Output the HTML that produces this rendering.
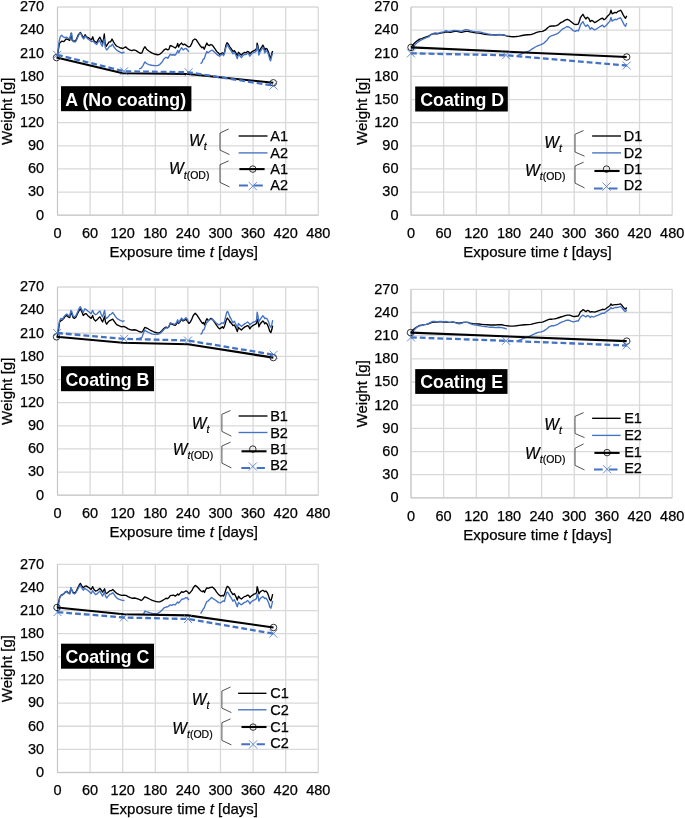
<!DOCTYPE html>
<html><head><meta charset="utf-8"><title>Weight vs exposure time</title>
<style>
html,body{margin:0;padding:0;background:#fff;}
svg{display:block;will-change:transform;transform:translateZ(0);}
.t{font-family:"Liberation Sans",Arial,sans-serif;font-size:14.5px;fill:#000;stroke:#000;stroke-width:0.25px;}
.a{font-family:"Liberation Sans",Arial,sans-serif;font-size:15px;fill:#000;stroke:#000;stroke-width:0.25px;}
.w{font-family:"Liberation Sans",Arial,sans-serif;font-size:15.6px;fill:#000;stroke:#000;stroke-width:0.2px;}
.tt{font-family:"Liberation Sans",Arial,sans-serif;font-size:17.8px;font-weight:bold;fill:#fff;}
</style></head><body>
<svg width="685" height="818" viewBox="0 0 685 818">
<rect width="685" height="818" fill="#fff"/>
<path d="M57.50,7.00H318.30M57.50,30.13H318.30M57.50,53.27H318.30M57.50,76.40H318.30M57.50,99.53H318.30M57.50,122.67H318.30M57.50,145.80H318.30M57.50,168.93H318.30M57.50,192.07H318.30M57.50,215.20H318.30M57.50,7.00V215.20M90.10,7.00V215.20M122.70,7.00V215.20M155.30,7.00V215.20M187.90,7.00V215.20M220.50,7.00V215.20M253.10,7.00V215.20M285.70,7.00V215.20M318.30,7.00V215.20" stroke="#D9D9D9" stroke-width="1.3" fill="none"/>
<path d="M57.50,7.00V215.20H318.30" stroke="#C6C6C6" stroke-width="1.0" fill="none"/>
<text x="44.2" y="11.3" text-anchor="end" class="t">270</text>
<text x="44.2" y="34.4" text-anchor="end" class="t">240</text>
<text x="44.2" y="57.6" text-anchor="end" class="t">210</text>
<text x="44.2" y="80.7" text-anchor="end" class="t">180</text>
<text x="44.2" y="103.8" text-anchor="end" class="t">150</text>
<text x="44.2" y="127.0" text-anchor="end" class="t">120</text>
<text x="44.2" y="150.1" text-anchor="end" class="t">90</text>
<text x="44.2" y="173.2" text-anchor="end" class="t">60</text>
<text x="44.2" y="196.4" text-anchor="end" class="t">30</text>
<text x="44.2" y="219.5" text-anchor="end" class="t">0</text>
<text x="57.5" y="238.0" text-anchor="middle" class="t">0</text>
<text x="90.1" y="238.0" text-anchor="middle" class="t">60</text>
<text x="122.7" y="238.0" text-anchor="middle" class="t">120</text>
<text x="155.3" y="238.0" text-anchor="middle" class="t">180</text>
<text x="187.9" y="238.0" text-anchor="middle" class="t">240</text>
<text x="220.5" y="238.0" text-anchor="middle" class="t">300</text>
<text x="253.1" y="238.0" text-anchor="middle" class="t">360</text>
<text x="285.7" y="238.0" text-anchor="middle" class="t">420</text>
<text x="318.3" y="238.0" text-anchor="middle" class="t">480</text>
<text x="183.8" y="257.0" text-anchor="middle" class="a">Exposure time <tspan font-style="italic">t</tspan> [days]</text>
<text transform="translate(12.2,111.3) rotate(-90)" text-anchor="middle" class="a">Weight [g]</text>
<path d="M57.30,56.50 L58.47,49.20 L59.49,43.36 L61.68,41.17 L63.87,41.61 L66.06,38.98 L68.25,39.71 L69.71,40.44 L71.17,33.14 L72.19,40.44 L74.09,41.61 L76.28,39.71 L78.47,34.60 L80.36,32.41 L82.12,35.33 L83.87,38.25 L85.04,34.60 L86.50,36.79 L88.25,37.52 L90.15,38.98 L91.61,39.71 L92.77,36.79 L93.80,40.44 L95.26,41.90 L96.72,42.63 L98.18,39.71 L99.93,37.23 L101.39,40.44 L102.55,43.36 L103.58,38.98 L104.31,33.87 L105.04,43.36 L106.20,46.28 L107.66,44.09 L109.12,41.90 L110.58,41.90 L112.04,38.98 L113.50,41.90 L114.96,44.09 L116.42,45.99 L118.61,47.01 L120.80,48.03 L122.99,48.47 L124.45,47.45 L125.91,47.01 L127.37,48.47 L129.56,49.93 L131.75,50.66 L133.94,49.93 L136.13,50.66 L138.32,52.12 L140.51,53.28 L141.97,52.85 L143.43,49.20 L144.89,46.72 L146.57,49.20 L148.76,50.95 L151.68,52.85 L154.60,54.01 L157.52,54.74 L159.71,54.31 L161.90,52.41 L164.09,49.93 L165.99,48.91 L167.74,49.93 L168.91,49.20 L170.22,45.55 L171.82,45.99 L173.58,47.01 L175.33,48.03 L176.79,46.28 L177.66,43.36 L178.69,47.01 L179.71,44.82 L181.61,43.07 L183.07,44.82 L184.53,44.09 L185.99,45.11 L187.45,46.28 L188.91,47.01 L190.36,46.28 L191.82,43.36 L192.85,40.44 L194.74,38.98 L196.20,39.71 L197.66,41.90 L199.12,44.09 L200.58,46.28 L202.04,47.74 L203.07,47.01 L204.23,49.20 L205.69,45.55 L206.86,43.07 L207.88,44.82 L209.34,45.55 L210.80,44.53 L212.26,45.11 L213.72,47.01 L215.18,49.20 L216.64,51.39 L218.10,52.85 L219.56,54.31 L221.02,53.58 L222.48,52.85 L223.50,54.74 L224.67,51.39 L225.84,45.55 L227.01,42.63 L228.32,44.09 L229.78,47.01 L230.00,47.01 L231.46,49.20 L232.92,51.39 L234.38,50.66 L235.84,52.85 L237.30,55.77 L238.47,52.12 L239.93,53.87 L241.39,55.04 L243.14,53.28 L244.60,52.41 L246.06,52.85 L247.52,51.39 L248.69,51.82 L249.85,53.87 L251.17,52.41 L252.63,51.39 L254.09,50.66 L255.55,49.93 L256.57,48.47 L257.15,43.07 L258.03,46.28 L258.91,52.85 L259.93,49.93 L261.39,47.74 L262.85,45.11 L263.87,47.01 L264.74,50.66 L265.77,48.47 L267.23,49.20 L268.69,52.85 L269.71,56.50 L270.58,58.25 L271.61,54.31 L272.63,50.95" stroke="#000" stroke-width="1.35" fill="none" stroke-linejoin="round"/>
<path d="M57.30,55.77 L58.18,49.20 L59.05,41.90 L60.22,36.79 L61.68,35.33 L63.14,36.79 L64.60,37.52 L66.79,37.23 L68.25,38.25 L69.71,38.98 L70.88,33.87 L71.61,33.14 L72.34,38.98 L73.36,41.61 L75.55,41.90 L77.01,38.98 L78.47,35.77 L79.93,33.14 L80.95,33.87 L82.12,36.79 L83.58,38.98 L85.04,36.06 L86.50,37.52 L87.96,38.98 L90.15,40.44 L91.61,41.61 L93.07,41.17 L94.53,42.63 L96.72,44.53 L98.18,41.90 L99.64,40.44 L101.09,44.09 L102.26,46.28 L103.43,41.90 L104.31,38.98 L105.18,47.01 L106.64,49.93 L108.10,48.47 L109.56,46.28 L111.02,45.99 L112.48,44.09 L113.94,47.01 L115.69,49.20 L117.88,50.95 L120.07,52.12 L122.26,53.14 L124.45,51.82" stroke="#4472C4" stroke-width="1.35" fill="none" stroke-linejoin="round"/>
<path d="M139.05,68.91 L141.24,68.18 L143.14,65.26 L144.89,61.90 L146.57,63.50 L148.76,64.53 L151.68,65.26 L154.60,65.69 L157.52,65.55 L159.71,64.53 L161.90,62.34 L164.09,58.69 L165.99,57.23 L167.74,58.25 L168.91,56.50 L170.22,54.31 L171.82,55.04 L173.58,54.74 L175.33,55.04 L176.79,52.85 L177.66,50.36 L178.69,52.85 L179.71,50.66 L181.61,47.74 L183.07,49.93 L184.53,48.91 L185.99,48.47 L187.45,49.93 L188.91,51.82" stroke="#4472C4" stroke-width="1.35" fill="none" stroke-linejoin="round"/>
<path d="M200.58,63.80 L202.04,62.34 L203.07,59.42 L204.23,58.69 L205.69,54.31 L206.86,51.39 L207.88,52.85 L209.34,51.82 L210.80,50.66 L212.26,50.22 L213.72,51.39 L215.18,52.85 L216.64,54.31 L218.10,55.47 L219.56,56.20 L221.02,55.04 L222.48,53.87 L223.50,55.77 L224.67,52.85 L225.84,47.74 L227.01,44.82 L228.32,46.28 L229.78,49.20 L230.00,49.20 L231.46,51.39 L232.92,53.87 L234.38,52.41 L235.84,55.04 L237.30,58.69 L238.47,54.31 L239.93,55.77 L241.39,57.66 L243.14,55.33 L244.60,54.31 L246.06,54.60 L247.52,53.28 L248.69,53.87 L249.85,56.20 L251.17,54.31 L252.63,53.28 L254.09,52.41 L255.55,51.82 L256.57,50.66 L257.15,45.55 L258.03,48.47 L258.91,55.04 L259.93,52.12 L261.39,49.93 L262.85,47.30 L263.87,49.20 L264.74,52.85 L265.77,50.66 L267.23,51.39 L268.69,55.04 L269.71,59.12 L270.58,60.88 L271.61,56.50 L272.63,52.85" stroke="#4472C4" stroke-width="1.35" fill="none" stroke-linejoin="round"/>
<path d="M56.50,57.60 L122.80,73.20 L188.00,74.00 L273.30,82.80" stroke="#000" stroke-width="2.1" fill="none" stroke-linejoin="round"/>
<circle cx="56.5" cy="57.6" r="3.25" fill="none" stroke="#000" stroke-width="0.8"/>
<circle cx="273.3" cy="82.8" r="3.25" fill="none" stroke="#000" stroke-width="0.8"/>
<path d="M57.10,54.80 L124.10,71.30 L188.60,72.30 L273.50,85.60" stroke="#4472C4" stroke-width="2.3" fill="none" stroke-dasharray="5.8 3" stroke-linejoin="round"/>
<path d="M53.1,50.8l8,8m0,-8l-8,8" stroke="#4472C4" stroke-width="0.8" fill="none"/>
<path d="M120.1,67.3l8,8m0,-8l-8,8" stroke="#4472C4" stroke-width="0.8" fill="none"/>
<path d="M184.6,68.3l8,8m0,-8l-8,8" stroke="#4472C4" stroke-width="0.8" fill="none"/>
<path d="M269.5,81.6l8,8m0,-8l-8,8" stroke="#4472C4" stroke-width="0.8" fill="none"/>
<rect x="61" y="86.2" width="130.4" height="25.0" fill="#000"/>
<text x="65.3" y="106.1" class="tt">A (No coating)</text>
<path d="M238.6,136.0H267.5" stroke="#000" stroke-width="1.35"/>
<path d="M238.6,152.9H267.5" stroke="#4472C4" stroke-width="1.35"/>
<path d="M239.4,169.1H264.6" stroke="#000" stroke-width="2.1"/>
<circle cx="252.8" cy="169.1" r="3.25" fill="none" stroke="#000" stroke-width="0.8"/>
<path d="M239.0,185.6H247.9M253.9,185.6H262.8" stroke="#4472C4" stroke-width="2.0"/>
<path d="M248.7,182.0l8.2,8.2m0,-8.2l-8.2,8.2" stroke="#4472C4" stroke-width="0.8" fill="none"/>
<text x="270.3" y="141.0" class="t">A1</text>
<text x="270.3" y="157.7" class="t">A2</text>
<text x="270.3" y="174.2" class="t">A1</text>
<text x="270.3" y="190.3" class="t">A2</text>
<path d="M228.6,129.0L220.0,133.0V150.1L229.5,154.6" stroke="#404040" stroke-width="0.9" fill="none"/>
<path d="M228.6,160.9L220.0,164.7V182.4L229.5,186.9" stroke="#404040" stroke-width="0.9" fill="none"/>
<text x="189.0" y="146.3" class="w"><tspan font-style="italic">W</tspan><tspan font-style="italic" font-size="10.5" dy="3.9">t</tspan></text>
<text x="169.0" y="174.2" class="w"><tspan font-style="italic">W</tspan><tspan font-style="italic" font-size="10.5" dy="4.3">t</tspan><tspan font-size="10.5">(OD)</tspan></text>
<path d="M411.00,7.00H672.20M411.00,30.13H672.20M411.00,53.27H672.20M411.00,76.40H672.20M411.00,99.53H672.20M411.00,122.67H672.20M411.00,145.80H672.20M411.00,168.93H672.20M411.00,192.07H672.20M411.00,215.20H672.20M411.00,7.00V215.20M443.65,7.00V215.20M476.30,7.00V215.20M508.95,7.00V215.20M541.60,7.00V215.20M574.25,7.00V215.20M606.90,7.00V215.20M639.55,7.00V215.20M672.20,7.00V215.20" stroke="#D9D9D9" stroke-width="1.3" fill="none"/>
<path d="M411.00,7.00V215.20H672.20" stroke="#C6C6C6" stroke-width="1.0" fill="none"/>
<text x="398.5" y="11.3" text-anchor="end" class="t">270</text>
<text x="398.5" y="34.4" text-anchor="end" class="t">240</text>
<text x="398.5" y="57.6" text-anchor="end" class="t">210</text>
<text x="398.5" y="80.7" text-anchor="end" class="t">180</text>
<text x="398.5" y="103.8" text-anchor="end" class="t">150</text>
<text x="398.5" y="127.0" text-anchor="end" class="t">120</text>
<text x="398.5" y="150.1" text-anchor="end" class="t">90</text>
<text x="398.5" y="173.2" text-anchor="end" class="t">60</text>
<text x="398.5" y="196.4" text-anchor="end" class="t">30</text>
<text x="398.5" y="219.5" text-anchor="end" class="t">0</text>
<text x="411.0" y="238.0" text-anchor="middle" class="t">0</text>
<text x="443.6" y="238.0" text-anchor="middle" class="t">60</text>
<text x="476.3" y="238.0" text-anchor="middle" class="t">120</text>
<text x="509.0" y="238.0" text-anchor="middle" class="t">180</text>
<text x="541.6" y="238.0" text-anchor="middle" class="t">240</text>
<text x="574.2" y="238.0" text-anchor="middle" class="t">300</text>
<text x="606.9" y="238.0" text-anchor="middle" class="t">360</text>
<text x="639.6" y="238.0" text-anchor="middle" class="t">420</text>
<text x="672.2" y="238.0" text-anchor="middle" class="t">480</text>
<text x="537.5" y="257.0" text-anchor="middle" class="a">Exposure time <tspan font-style="italic">t</tspan> [days]</text>
<text transform="translate(366.7,111.3) rotate(-90)" text-anchor="middle" class="a">Weight [g]</text>
<path d="M410.95,47.45 L413.14,44.53 L415.33,42.34 L417.52,40.58 L419.71,39.12 L421.90,38.69 L424.09,37.66 L426.28,36.79 L428.47,36.20 L430.66,34.74 L432.85,33.87 L435.04,33.58 L437.23,33.87 L439.42,33.28 L441.61,32.85 L443.80,32.55 L445.99,31.82 L448.18,32.12 L450.36,32.41 L452.55,31.82 L454.74,31.39 L456.93,31.39 L459.12,31.82 L461.31,32.41 L463.50,31.82 L465.69,31.39 L467.88,31.39 L470.07,31.82 L472.99,32.41 L475.91,32.85 L478.83,33.14 L481.75,33.58 L484.67,34.31 L487.59,34.60 L490.51,34.74 L492.92,34.74 L495.84,35.04 L498.76,34.60 L501.68,34.74 L504.60,35.33 L507.52,36.06 L510.44,36.50 L513.36,36.79 L516.28,36.50 L519.20,36.06 L522.12,35.47 L525.04,35.04 L527.96,34.74 L530.88,34.60 L533.80,33.58 L536.72,32.41 L539.64,31.68 L542.55,31.39 L545.47,29.93 L547.66,27.74 L549.85,26.28 L552.04,25.99 L554.23,25.99 L556.42,25.55 L558.61,24.53 L560.80,22.63 L562.99,21.61 L565.18,20.15 L567.37,19.27 L569.56,20.44 L571.75,22.19 L573.94,24.09 L576.13,24.53 L578.32,24.09 L579.34,21.17 L580.51,17.52 L581.46,16.06 L582.92,14.31 L584.38,16.79 L585.84,18.98 L587.30,17.23 L588.76,18.25 L590.22,21.61 L591.68,20.44 L593.14,21.17 L594.60,22.63 L596.06,21.90 L598.25,20.44 L600.44,18.98 L602.63,18.25 L604.09,19.71 L605.55,18.69 L607.01,16.79 L608.47,15.33 L609.93,13.87 L610.95,10.22 L612.12,13.87 L613.58,13.14 L615.04,12.41 L616.50,12.85 L617.96,11.39 L619.42,10.95 L620.58,10.22 L621.61,11.68 L623.07,14.60 L624.53,17.23 L625.55,18.25 L626.72,15.77" stroke="#000" stroke-width="1.35" fill="none" stroke-linejoin="round"/>
<path d="M410.95,50.36 L413.14,46.72 L415.33,44.53 L417.52,42.34 L419.71,40.88 L421.90,39.71 L424.09,38.69 L426.28,37.66 L428.47,36.93 L430.66,35.04 L432.85,33.58 L435.04,32.85 L437.23,33.28 L439.42,32.85 L441.61,32.12 L443.80,31.82 L445.99,30.66 L448.18,31.39 L450.36,31.39 L452.55,30.66 L454.74,30.36 L456.93,30.66 L459.12,30.95 L461.31,31.39 L463.50,30.36 L465.69,29.64 L467.88,29.93 L470.07,30.66 L472.99,31.39 L475.91,31.82 L478.83,31.82 L481.75,32.41 L484.67,33.28 L487.59,33.87 L490.51,34.31 L492.92,34.74 L495.84,35.04 L498.76,34.31 L501.68,34.60 L504.60,35.04 L506.79,35.77" stroke="#4472C4" stroke-width="1.35" fill="none" stroke-linejoin="round"/>
<path d="M517.74,55.47 L520.66,54.31 L523.58,52.85 L526.50,51.82 L529.42,50.80 L532.34,48.91 L535.26,47.01 L538.18,45.55 L541.09,44.53 L544.01,43.07 L546.93,40.15 L549.12,37.23 L551.31,35.77 L553.50,35.04 L555.69,34.31 L557.88,33.28 L560.07,31.39 L562.26,29.20 L564.45,28.03 L566.64,26.72 L568.83,27.01 L571.02,28.47 L573.21,30.66 L575.40,31.39 L576.86,30.36 L578.32,30.95 L579.34,28.47 L580.51,24.82 L581.46,23.36 L582.92,21.61 L584.38,24.53 L585.84,26.57 L587.30,24.82 L588.76,26.28 L590.22,29.20 L591.68,27.74 L593.14,28.91 L594.60,29.93 L596.06,29.20 L598.25,27.74 L600.44,26.28 L602.63,25.11 L604.09,27.01 L605.55,25.99 L607.01,24.53 L608.47,22.63 L609.93,21.17 L610.95,17.52 L612.12,21.17 L613.58,20.15 L615.04,19.27 L616.50,19.71 L617.96,18.69 L619.42,18.25 L620.58,17.81 L621.61,19.71 L623.07,22.63 L624.53,25.55 L625.55,26.28 L626.72,23.07" stroke="#4472C4" stroke-width="1.35" fill="none" stroke-linejoin="round"/>
<path d="M411.00,47.40 L626.70,57.00" stroke="#000" stroke-width="2.1" fill="none" stroke-linejoin="round"/>
<circle cx="411.0" cy="47.4" r="3.25" fill="none" stroke="#000" stroke-width="0.8"/>
<circle cx="626.7" cy="57.0" r="3.25" fill="none" stroke="#000" stroke-width="0.8"/>
<path d="M411.00,53.30 L506.00,55.30 L626.70,65.50" stroke="#4472C4" stroke-width="2.3" fill="none" stroke-dasharray="5.8 3" stroke-linejoin="round"/>
<path d="M407.0,49.3l8,8m0,-8l-8,8" stroke="#4472C4" stroke-width="0.8" fill="none"/>
<path d="M502.0,51.3l8,8m0,-8l-8,8" stroke="#4472C4" stroke-width="0.8" fill="none"/>
<path d="M622.7,61.5l8,8m0,-8l-8,8" stroke="#4472C4" stroke-width="0.8" fill="none"/>
<rect x="415.2" y="86.5" width="92.6" height="25.0" fill="#000"/>
<text x="420.2" y="106.3" class="tt">Coating D</text>
<path d="M592.1,136.0H621.0" stroke="#000" stroke-width="1.35"/>
<path d="M592.1,152.9H621.0" stroke="#4472C4" stroke-width="1.35"/>
<path d="M594.4,171.0H619.6" stroke="#000" stroke-width="2.1"/>
<circle cx="606.5" cy="169.1" r="3.25" fill="none" stroke="#000" stroke-width="0.8"/>
<path d="M594.0,188.4H602.7M608.9,188.4H617.5" stroke="#4472C4" stroke-width="2.0"/>
<path d="M602.4,182.4l8.2,8.2m0,-8.2l-8.2,8.2" stroke="#4472C4" stroke-width="0.8" fill="none"/>
<text x="623.7" y="141.0" class="t">D1</text>
<text x="623.7" y="157.7" class="t">D2</text>
<text x="623.7" y="174.2" class="t">D1</text>
<text x="623.7" y="190.3" class="t">D2</text>
<path d="M583.6,130.5L575.0,134.3V152.0L584.5,156.2" stroke="#404040" stroke-width="0.9" fill="none"/>
<path d="M583.6,162.2L575.0,166.0V183.1L584.5,187.9" stroke="#404040" stroke-width="0.9" fill="none"/>
<text x="544.3" y="148.2" class="w"><tspan font-style="italic">W</tspan><tspan font-style="italic" font-size="10.5" dy="3.9">t</tspan></text>
<text x="525.0" y="175.7" class="w"><tspan font-style="italic">W</tspan><tspan font-style="italic" font-size="10.5" dy="4.3">t</tspan><tspan font-size="10.5">(OD)</tspan></text>
<path d="M57.50,287.00H318.30M57.50,310.13H318.30M57.50,333.27H318.30M57.50,356.40H318.30M57.50,379.53H318.30M57.50,402.67H318.30M57.50,425.80H318.30M57.50,448.93H318.30M57.50,472.07H318.30M57.50,495.20H318.30M57.50,287.00V495.20M90.10,287.00V495.20M122.70,287.00V495.20M155.30,287.00V495.20M187.90,287.00V495.20M220.50,287.00V495.20M253.10,287.00V495.20M285.70,287.00V495.20M318.30,287.00V495.20" stroke="#D9D9D9" stroke-width="1.3" fill="none"/>
<path d="M57.50,287.00V495.20H318.30" stroke="#C6C6C6" stroke-width="1.0" fill="none"/>
<text x="44.2" y="291.3" text-anchor="end" class="t">270</text>
<text x="44.2" y="314.4" text-anchor="end" class="t">240</text>
<text x="44.2" y="337.6" text-anchor="end" class="t">210</text>
<text x="44.2" y="360.7" text-anchor="end" class="t">180</text>
<text x="44.2" y="383.8" text-anchor="end" class="t">150</text>
<text x="44.2" y="407.0" text-anchor="end" class="t">120</text>
<text x="44.2" y="430.1" text-anchor="end" class="t">90</text>
<text x="44.2" y="453.2" text-anchor="end" class="t">60</text>
<text x="44.2" y="476.4" text-anchor="end" class="t">30</text>
<text x="44.2" y="499.5" text-anchor="end" class="t">0</text>
<text x="57.5" y="518.0" text-anchor="middle" class="t">0</text>
<text x="90.1" y="518.0" text-anchor="middle" class="t">60</text>
<text x="122.7" y="518.0" text-anchor="middle" class="t">120</text>
<text x="155.3" y="518.0" text-anchor="middle" class="t">180</text>
<text x="187.9" y="518.0" text-anchor="middle" class="t">240</text>
<text x="220.5" y="518.0" text-anchor="middle" class="t">300</text>
<text x="253.1" y="518.0" text-anchor="middle" class="t">360</text>
<text x="285.7" y="518.0" text-anchor="middle" class="t">420</text>
<text x="318.3" y="518.0" text-anchor="middle" class="t">480</text>
<text x="183.8" y="537.0" text-anchor="middle" class="a">Exposure time <tspan font-style="italic">t</tspan> [days]</text>
<text transform="translate(12.2,391.3) rotate(-90)" text-anchor="middle" class="a">Weight [g]</text>
<path d="M57.30,336.61 L58.47,330.04 L59.64,322.01 L60.95,320.55 L62.41,319.82 L63.87,318.36 L65.33,316.17 L66.79,315.44 L68.25,316.90 L69.71,317.63 L70.88,312.52 L71.90,313.98 L73.07,317.63 L74.53,318.36 L75.99,316.90 L77.74,313.25 L79.20,310.33 L80.36,308.87 L81.82,311.79 L83.28,315.44 L84.74,313.98 L86.20,313.69 L87.66,315.44 L89.42,316.90 L91.17,318.36 L92.63,315.44 L93.80,319.09 L95.55,320.99 L97.01,319.82 L98.47,318.07 L99.93,316.90 L101.39,319.82 L102.55,322.01 L103.72,319.09 L104.60,316.17 L105.47,322.01 L106.64,324.20 L108.10,322.01 L109.85,320.55 L111.31,319.82 L112.77,319.09 L114.23,321.28 L115.69,323.47 L117.15,324.93 L119.34,325.95 L121.53,326.82 L123.72,326.39 L125.91,327.41 L128.10,328.87 L130.29,329.74 L132.48,330.04 L134.67,329.74 L136.86,330.47 L139.05,331.50 L141.24,332.23 L142.70,331.50 L143.72,329.31 L144.89,327.41 L147.30,328.28 L149.49,329.74 L151.68,330.77 L154.60,332.23 L157.52,332.96 L159.71,332.66 L161.90,330.77 L164.09,328.28 L165.99,327.12 L167.74,327.85 L168.91,326.82 L170.22,323.47 L171.82,324.20 L173.58,324.93 L175.33,325.36 L176.79,323.47 L177.66,320.99 L178.69,323.47 L179.71,322.01 L181.61,319.09 L183.07,320.99 L184.53,320.11 L185.99,319.09 L187.45,321.28 L188.91,323.47 L190.36,322.01 L191.82,319.09 L193.28,315.44 L195.18,313.25 L196.64,314.71 L198.10,316.90 L199.56,319.09 L201.02,321.28 L202.48,323.47 L203.50,322.45 L204.53,324.93 L205.69,321.28 L206.86,318.65 L207.88,320.11 L209.34,319.82 L210.80,318.36 L212.26,319.09 L213.72,320.99 L215.18,323.03 L216.64,325.36 L218.10,327.41 L219.56,328.87 L221.02,327.85 L222.48,326.82 L223.50,328.28 L224.67,325.66 L226.13,320.55 L227.30,318.07 L228.76,319.82 L230.22,322.74 L230.00,321.28 L231.46,323.47 L232.92,325.66 L234.38,324.93 L235.84,327.85 L237.30,331.50 L238.47,327.41 L239.93,328.87 L241.39,330.04 L243.14,328.28 L244.60,327.12 L246.06,326.39 L247.52,325.66 L248.69,326.39 L249.85,328.87 L251.17,326.82 L252.63,325.66 L254.09,324.93 L255.55,324.20 L256.57,323.03 L257.15,319.09 L258.03,321.28 L258.91,326.82 L259.93,324.20 L261.39,322.45 L262.85,320.99 L263.87,322.01 L264.74,323.91 L265.77,322.74 L267.23,324.20 L268.69,327.85 L269.71,331.20 L270.88,332.66 L271.90,329.31 L272.63,325.66" stroke="#000" stroke-width="1.35" fill="none" stroke-linejoin="round"/>
<path d="M57.30,333.69 L58.47,327.12 L59.64,320.55 L60.95,318.36 L62.41,319.09 L63.87,316.90 L65.33,315.15 L66.79,313.98 L68.25,315.44 L69.71,316.17 L70.88,310.33 L71.90,311.79 L73.07,316.17 L74.53,316.90 L75.99,315.44 L77.74,311.79 L79.20,308.14 L80.36,306.68 L81.82,309.60 L83.28,312.52 L84.74,308.87 L86.20,309.60 L87.66,311.06 L89.42,312.23 L91.17,313.69 L92.63,310.33 L93.80,313.25 L95.55,314.71 L97.01,313.98 L98.47,312.23 L99.93,311.06 L101.39,314.71 L102.55,316.90 L103.72,313.25 L104.60,310.33 L105.47,316.90 L106.64,318.36 L108.10,316.90 L109.85,314.71 L111.31,313.98 L112.77,312.52 L114.23,314.71 L115.69,316.90 L117.15,318.65 L119.34,319.82 L121.53,320.99 L122.99,321.57 L124.45,320.55" stroke="#4472C4" stroke-width="1.35" fill="none" stroke-linejoin="round"/>
<path d="M137.59,338.50 L139.78,338.07 L141.97,337.34 L143.43,332.96 L144.89,330.04 L146.13,331.20 L148.03,332.23 L150.22,333.25 L152.41,334.12 L154.60,334.42 L157.52,334.42 L159.71,333.69 L161.90,331.79 L164.09,329.31 L165.99,327.85 L167.74,327.85 L168.91,326.39 L170.22,322.74 L171.82,323.47 L173.58,323.91 L175.33,324.20 L176.79,322.01 L177.66,319.82 L178.69,322.74 L179.71,320.99 L181.61,318.07 L183.07,320.11 L184.53,319.09 L185.99,317.63 L187.45,319.53 L188.47,322.01" stroke="#4472C4" stroke-width="1.35" fill="none" stroke-linejoin="round"/>
<path d="M200.58,334.42 L202.04,332.96 L203.07,330.04 L204.23,329.31 L205.40,325.66 L206.57,322.74 L207.59,322.01 L208.61,320.55 L210.07,319.53 L211.53,319.09 L212.99,320.11 L214.45,321.28 L215.91,322.74 L217.37,323.91 L218.83,324.93 L220.29,324.20 L221.75,322.74 L223.21,323.47 L224.38,322.01 L225.55,316.90 L226.72,312.23 L227.59,311.35 L228.76,313.98 L230.22,318.07 L230.00,316.90 L231.46,319.82 L232.92,322.74 L234.38,321.28 L235.84,324.20 L237.30,327.85 L238.47,323.47 L239.93,324.93 L241.39,326.39 L243.14,324.93 L244.60,323.91 L246.06,323.03 L247.52,322.01 L248.69,322.74 L249.85,324.93 L251.17,323.47 L252.63,322.45 L254.09,322.01 L255.55,321.28 L256.57,319.82 L257.15,312.23 L258.03,316.17 L258.91,322.01 L259.93,319.82 L261.39,317.63 L262.85,315.73 L263.87,316.90 L264.74,318.65 L265.77,318.07 L267.23,319.09 L268.69,322.01 L269.71,325.66 L270.88,327.41 L271.90,324.20 L272.63,320.11" stroke="#4472C4" stroke-width="1.35" fill="none" stroke-linejoin="round"/>
<path d="M56.50,336.80 L122.80,342.80 L188.00,344.30 L273.30,357.60" stroke="#000" stroke-width="2.1" fill="none" stroke-linejoin="round"/>
<circle cx="56.5" cy="336.8" r="3.25" fill="none" stroke="#000" stroke-width="0.8"/>
<circle cx="273.3" cy="357.6" r="3.25" fill="none" stroke="#000" stroke-width="0.8"/>
<path d="M57.10,333.00 L124.10,338.80 L188.00,340.50 L273.70,354.70" stroke="#4472C4" stroke-width="2.3" fill="none" stroke-dasharray="5.8 3" stroke-linejoin="round"/>
<path d="M53.1,329.0l8,8m0,-8l-8,8" stroke="#4472C4" stroke-width="0.8" fill="none"/>
<path d="M120.1,334.8l8,8m0,-8l-8,8" stroke="#4472C4" stroke-width="0.8" fill="none"/>
<path d="M184.0,336.5l8,8m0,-8l-8,8" stroke="#4472C4" stroke-width="0.8" fill="none"/>
<path d="M269.7,350.7l8,8m0,-8l-8,8" stroke="#4472C4" stroke-width="0.8" fill="none"/>
<rect x="61" y="366.2" width="93.0" height="25.0" fill="#000"/>
<text x="65.5" y="385.7" class="tt">Coating B</text>
<path d="M238.6,416.0H267.5" stroke="#000" stroke-width="1.35"/>
<path d="M238.6,432.5H267.5" stroke="#4472C4" stroke-width="1.35"/>
<path d="M241.5,451.3H266.5" stroke="#000" stroke-width="2.1"/>
<circle cx="252.8" cy="449.1" r="3.25" fill="none" stroke="#000" stroke-width="0.8"/>
<path d="M241.3,467.9H250.0M256.7,467.9H264.9" stroke="#4472C4" stroke-width="2.0"/>
<path d="M248.7,462.4l8.2,8.2m0,-8.2l-8.2,8.2" stroke="#4472C4" stroke-width="0.8" fill="none"/>
<text x="270.2" y="421.0" class="t">B1</text>
<text x="270.2" y="437.7" class="t">B2</text>
<text x="270.2" y="454.2" class="t">B1</text>
<text x="270.2" y="470.3" class="t">B2</text>
<path d="M230.5,410.5L221.9,414.3V431.4L231.4,436.2" stroke="#404040" stroke-width="0.9" fill="none"/>
<path d="M230.5,442.2L221.9,446.0V463.1L231.4,467.9" stroke="#404040" stroke-width="0.9" fill="none"/>
<text x="191.8" y="428.6" class="w"><tspan font-style="italic">W</tspan><tspan font-style="italic" font-size="10.5" dy="3.9">t</tspan></text>
<text x="172.8" y="454.8" class="w"><tspan font-style="italic">W</tspan><tspan font-style="italic" font-size="10.5" dy="4.3">t</tspan><tspan font-size="10.5">(OD)</tspan></text>
<path d="M411.00,289.30H672.20M411.00,312.48H672.20M411.00,335.66H672.20M411.00,358.83H672.20M411.00,382.01H672.20M411.00,405.19H672.20M411.00,428.37H672.20M411.00,451.54H672.20M411.00,474.72H672.20M411.00,497.90H672.20M411.00,289.30V497.90M443.65,289.30V497.90M476.30,289.30V497.90M508.95,289.30V497.90M541.60,289.30V497.90M574.25,289.30V497.90M606.90,289.30V497.90M639.55,289.30V497.90M672.20,289.30V497.90" stroke="#D9D9D9" stroke-width="1.3" fill="none"/>
<path d="M411.00,289.30V497.90H672.20" stroke="#C6C6C6" stroke-width="1.0" fill="none"/>
<text x="398.5" y="293.6" text-anchor="end" class="t">270</text>
<text x="398.5" y="316.8" text-anchor="end" class="t">240</text>
<text x="398.5" y="340.0" text-anchor="end" class="t">210</text>
<text x="398.5" y="363.1" text-anchor="end" class="t">180</text>
<text x="398.5" y="386.3" text-anchor="end" class="t">150</text>
<text x="398.5" y="409.5" text-anchor="end" class="t">120</text>
<text x="398.5" y="432.7" text-anchor="end" class="t">90</text>
<text x="398.5" y="455.8" text-anchor="end" class="t">60</text>
<text x="398.5" y="479.0" text-anchor="end" class="t">30</text>
<text x="398.5" y="502.2" text-anchor="end" class="t">0</text>
<text x="411.0" y="520.7" text-anchor="middle" class="t">0</text>
<text x="443.6" y="520.7" text-anchor="middle" class="t">60</text>
<text x="476.3" y="520.7" text-anchor="middle" class="t">120</text>
<text x="509.0" y="520.7" text-anchor="middle" class="t">180</text>
<text x="541.6" y="520.7" text-anchor="middle" class="t">240</text>
<text x="574.2" y="520.7" text-anchor="middle" class="t">300</text>
<text x="606.9" y="520.7" text-anchor="middle" class="t">360</text>
<text x="639.6" y="520.7" text-anchor="middle" class="t">420</text>
<text x="672.2" y="520.7" text-anchor="middle" class="t">480</text>
<text x="537.5" y="539.7" text-anchor="middle" class="a">Exposure time <tspan font-style="italic">t</tspan> [days]</text>
<text transform="translate(366.7,393.8) rotate(-90)" text-anchor="middle" class="a">Weight [g]</text>
<path d="M410.95,332.63 L413.14,329.71 L415.33,327.96 L417.52,326.50 L419.71,325.47 L421.90,325.04 L424.09,324.60 L426.28,324.31 L428.47,323.87 L430.66,322.85 L432.85,322.12 L435.04,321.82 L437.23,322.12 L439.42,321.82 L441.61,321.82 L443.80,322.12 L445.99,321.82 L448.18,322.41 L450.36,322.41 L452.55,322.12 L454.74,322.41 L456.93,322.85 L459.12,323.28 L461.31,322.85 L463.50,322.41 L465.69,322.41 L467.88,322.41 L470.07,323.14 L472.99,323.58 L475.91,323.87 L478.83,324.01 L481.75,324.31 L484.67,324.60 L487.59,324.74 L490.51,325.04 L492.92,325.04 L495.84,325.04 L498.76,324.60 L501.68,324.74 L504.60,325.33 L507.52,325.77 L510.44,326.06 L513.36,326.06 L516.28,325.77 L519.20,325.33 L522.12,325.04 L525.04,324.74 L527.96,324.60 L530.88,324.31 L533.80,323.58 L536.72,322.85 L539.64,322.41 L542.55,322.12 L545.47,320.95 L547.66,319.93 L549.85,319.20 L552.04,319.20 L554.23,318.91 L556.42,318.47 L558.61,317.74 L560.80,317.01 L562.99,316.28 L565.18,315.55 L567.37,315.11 L569.56,315.11 L571.75,315.99 L573.94,316.57 L576.13,316.28 L578.32,315.99 L579.34,314.09 L580.51,311.61 L581.46,311.17 L582.92,309.71 L584.38,310.44 L585.84,311.61 L587.30,310.44 L588.76,310.73 L590.22,312.19 L591.68,311.61 L593.14,311.90 L594.60,312.19 L596.06,311.61 L598.25,310.88 L600.44,310.15 L602.63,309.27 L604.09,309.71 L605.55,308.98 L607.01,307.81 L608.47,306.79 L609.93,305.77 L610.95,303.87 L612.12,305.33 L613.58,304.89 L615.04,304.60 L616.50,304.60 L617.96,304.31 L619.42,304.16 L620.58,303.87 L621.61,304.89 L623.07,306.79 L624.53,308.69 L625.55,308.98 L626.72,307.52" stroke="#000" stroke-width="1.35" fill="none" stroke-linejoin="round"/>
<path d="M410.95,335.55 L413.14,331.17 L415.33,328.69 L417.52,326.79 L419.71,325.77 L421.90,325.33 L424.09,324.74 L426.28,324.31 L428.47,323.58 L430.66,322.41 L432.85,321.39 L435.04,321.39 L437.23,322.12 L439.42,321.39 L441.61,321.39 L443.80,321.82 L445.99,321.39 L448.18,322.12 L450.36,322.41 L452.55,321.82 L454.74,322.41 L456.93,323.28 L459.12,323.87 L461.31,323.28 L463.50,322.41 L465.69,322.12 L467.88,322.41 L470.07,323.58 L472.99,324.60 L475.91,325.04 L478.83,325.47 L481.75,326.06 L484.67,326.50 L487.59,326.93 L490.51,327.23 L492.92,327.23 L495.84,327.66 L498.76,327.23 L501.68,327.66 L504.60,328.25 L506.79,329.12" stroke="#4472C4" stroke-width="1.35" fill="none" stroke-linejoin="round"/>
<path d="M518.47,340.36 L520.66,339.64 L523.58,338.47 L526.50,337.45 L529.42,336.42 L532.34,334.96 L535.26,333.50 L538.18,332.34 L541.09,331.90 L544.01,330.88 L546.93,328.69 L549.12,326.79 L551.31,325.77 L553.50,325.77 L555.69,325.04 L557.88,324.31 L560.07,322.85 L562.26,321.82 L564.45,321.09 L566.64,320.22 L568.83,320.22 L571.02,321.09 L573.21,321.82 L575.40,321.39 L576.86,320.95 L578.32,320.95 L579.34,319.20 L580.51,317.01 L581.46,316.28 L582.92,315.11 L584.38,315.99 L585.84,317.01 L587.30,315.55 L588.76,315.99 L590.22,317.45 L591.68,316.28 L593.14,317.01 L594.60,316.57 L596.06,315.99 L598.25,315.11 L600.44,314.09 L602.63,313.07 L604.09,313.36 L605.55,312.19 L607.01,311.17 L608.47,310.15 L609.93,308.98 L610.95,307.52 L612.12,308.69 L613.58,308.25 L615.04,307.52 L616.50,307.52 L617.96,307.23 L619.42,306.79 L620.58,306.35 L621.61,307.52 L623.07,309.27 L624.53,311.17 L625.55,311.61 L626.72,309.71" stroke="#4472C4" stroke-width="1.35" fill="none" stroke-linejoin="round"/>
<path d="M410.50,332.60 L626.70,341.10" stroke="#000" stroke-width="2.1" fill="none" stroke-linejoin="round"/>
<circle cx="410.5" cy="332.6" r="3.25" fill="none" stroke="#000" stroke-width="0.8"/>
<circle cx="626.7" cy="341.1" r="3.25" fill="none" stroke="#000" stroke-width="0.8"/>
<path d="M411.00,337.40 L506.00,340.80 L626.70,345.50" stroke="#4472C4" stroke-width="2.3" fill="none" stroke-dasharray="5.8 3" stroke-linejoin="round"/>
<path d="M407.0,333.4l8,8m0,-8l-8,8" stroke="#4472C4" stroke-width="0.8" fill="none"/>
<path d="M502.0,336.8l8,8m0,-8l-8,8" stroke="#4472C4" stroke-width="0.8" fill="none"/>
<path d="M622.7,341.5l8,8m0,-8l-8,8" stroke="#4472C4" stroke-width="0.8" fill="none"/>
<rect x="415.2" y="369.1" width="92.3" height="24.8" fill="#000"/>
<text x="420.2" y="388.4" class="tt">Coating E</text>
<path d="M592.1,418.3H620.6" stroke="#000" stroke-width="1.35"/>
<path d="M592.1,435.4H620.6" stroke="#4472C4" stroke-width="1.35"/>
<path d="M594.4,452.9H619.6" stroke="#000" stroke-width="2.1"/>
<circle cx="607.1" cy="452.6" r="3.25" fill="none" stroke="#000" stroke-width="0.8"/>
<path d="M594.0,469.4H602.7M608.9,469.4H617.5" stroke="#4472C4" stroke-width="2.0"/>
<path d="M603.0,465.2l8.2,8.2m0,-8.2l-8.2,8.2" stroke="#4472C4" stroke-width="0.8" fill="none"/>
<text x="624.2" y="423.4" class="t">E1</text>
<text x="624.2" y="440.1" class="t">E2</text>
<text x="624.2" y="456.6" class="t">E1</text>
<text x="624.2" y="472.8" class="t">E2</text>
<path d="M583.6,412.6L575.0,416.4V433.5L584.5,437.6" stroke="#404040" stroke-width="0.9" fill="none"/>
<path d="M583.6,443.9L575.0,448.3V465.4L584.5,469.9" stroke="#404040" stroke-width="0.9" fill="none"/>
<text x="544.3" y="430.2" class="w"><tspan font-style="italic">W</tspan><tspan font-style="italic" font-size="10.5" dy="3.9">t</tspan></text>
<text x="525.0" y="458.7" class="w"><tspan font-style="italic">W</tspan><tspan font-style="italic" font-size="10.5" dy="4.3">t</tspan><tspan font-size="10.5">(OD)</tspan></text>
<path d="M57.50,564.30H318.30M57.50,587.43H318.30M57.50,610.57H318.30M57.50,633.70H318.30M57.50,656.83H318.30M57.50,679.97H318.30M57.50,703.10H318.30M57.50,726.23H318.30M57.50,749.37H318.30M57.50,772.50H318.30M57.50,564.30V772.50M90.10,564.30V772.50M122.70,564.30V772.50M155.30,564.30V772.50M187.90,564.30V772.50M220.50,564.30V772.50M253.10,564.30V772.50M285.70,564.30V772.50M318.30,564.30V772.50" stroke="#D9D9D9" stroke-width="1.3" fill="none"/>
<path d="M57.50,564.30V772.50H318.30" stroke="#C6C6C6" stroke-width="1.0" fill="none"/>
<text x="44.2" y="568.6" text-anchor="end" class="t">270</text>
<text x="44.2" y="591.7" text-anchor="end" class="t">240</text>
<text x="44.2" y="614.9" text-anchor="end" class="t">210</text>
<text x="44.2" y="638.0" text-anchor="end" class="t">180</text>
<text x="44.2" y="661.1" text-anchor="end" class="t">150</text>
<text x="44.2" y="684.3" text-anchor="end" class="t">120</text>
<text x="44.2" y="707.4" text-anchor="end" class="t">90</text>
<text x="44.2" y="730.5" text-anchor="end" class="t">60</text>
<text x="44.2" y="753.7" text-anchor="end" class="t">30</text>
<text x="44.2" y="776.8" text-anchor="end" class="t">0</text>
<text x="57.5" y="795.3" text-anchor="middle" class="t">0</text>
<text x="90.1" y="795.3" text-anchor="middle" class="t">60</text>
<text x="122.7" y="795.3" text-anchor="middle" class="t">120</text>
<text x="155.3" y="795.3" text-anchor="middle" class="t">180</text>
<text x="187.9" y="795.3" text-anchor="middle" class="t">240</text>
<text x="220.5" y="795.3" text-anchor="middle" class="t">300</text>
<text x="253.1" y="795.3" text-anchor="middle" class="t">360</text>
<text x="285.7" y="795.3" text-anchor="middle" class="t">420</text>
<text x="318.3" y="795.3" text-anchor="middle" class="t">480</text>
<text x="183.8" y="814.3" text-anchor="middle" class="a">Exposure time <tspan font-style="italic">t</tspan> [days]</text>
<text transform="translate(12.2,668.6) rotate(-90)" text-anchor="middle" class="a">Weight [g]</text>
<path d="M57.30,607.47 L58.47,602.66 L59.64,597.55 L60.95,595.36 L62.41,594.63 L63.87,593.90 L65.33,592.15 L66.79,591.27 L68.25,592.73 L69.71,593.61 L70.88,588.35 L71.90,590.25 L73.07,592.44 L74.53,593.17 L75.99,591.71 L77.74,588.06 L79.20,585.14 L80.36,583.39 L81.82,585.87 L83.28,587.77 L84.74,586.31 L86.20,585.87 L87.66,586.89 L89.42,588.06 L91.17,589.52 L92.63,586.60 L93.80,589.23 L95.55,590.98 L97.01,590.69 L98.47,589.52 L99.93,588.35 L101.39,590.25 L102.55,592.15 L103.72,590.25 L104.60,588.79 L105.47,592.44 L106.64,593.61 L108.10,592.15 L109.85,590.69 L111.31,590.69 L112.77,589.52 L114.23,590.98 L115.69,592.44 L117.15,593.61 L119.34,594.63 L121.53,595.36 L123.72,595.07 L125.91,595.36 L128.10,596.53 L130.29,597.55 L132.48,598.28 L134.67,597.99 L136.86,598.57 L139.05,599.45 L141.24,600.47 L142.70,599.45 L143.72,597.99 L144.89,596.82 L147.30,597.84 L149.49,599.01 L151.68,600.03 L154.60,601.20 L157.52,601.93 L159.71,601.93 L161.90,600.91 L164.09,599.45 L165.99,598.28 L167.74,598.57 L168.91,597.55 L170.22,595.65 L171.82,595.36 L173.58,595.07 L175.33,596.09 L176.79,595.07 L177.66,593.90 L178.69,595.07 L179.71,593.90 L181.61,591.71 L183.07,592.44 L184.53,591.71 L185.99,590.69 L187.45,591.71 L188.91,593.61 L190.36,592.44 L191.82,590.69 L193.28,587.77 L195.18,585.43 L196.64,586.31 L198.10,587.77 L199.56,589.52 L201.02,590.98 L202.48,591.71 L203.50,590.69 L204.53,592.44 L205.69,589.52 L206.86,587.77 L207.88,588.35 L209.34,587.77 L210.80,587.33 L212.26,587.04 L213.72,588.35 L215.18,589.81 L216.64,592.15 L218.10,593.90 L219.56,595.36 L221.02,596.09 L222.48,595.36 L223.50,596.09 L224.67,593.90 L226.13,588.79 L227.30,586.31 L228.76,587.33 L230.22,589.52 L230.00,590.25 L231.46,592.44 L232.92,594.63 L234.38,593.61 L235.84,596.53 L237.30,600.03 L238.47,596.09 L239.93,597.99 L241.39,599.01 L243.14,597.55 L244.60,596.53 L246.06,596.09 L247.52,595.07 L248.69,595.36 L249.85,597.55 L251.17,596.09 L252.63,595.07 L254.09,594.19 L255.55,593.61 L256.57,592.73 L257.15,586.60 L258.03,589.52 L258.91,593.90 L259.93,592.15 L261.39,590.98 L262.85,590.25 L263.87,590.98 L264.74,591.71 L265.77,590.98 L267.23,592.44 L268.69,596.09 L269.71,599.45 L270.88,600.91 L271.90,597.55 L272.63,594.19" stroke="#000" stroke-width="1.35" fill="none" stroke-linejoin="round"/>
<path d="M57.30,611.42 L58.47,604.85 L59.64,598.28 L60.95,595.36 L62.41,595.07 L63.87,593.61 L65.33,591.71 L66.79,591.71 L68.25,593.17 L69.71,593.90 L70.88,587.33 L71.90,590.25 L73.07,593.17 L74.53,593.90 L75.99,592.44 L77.74,589.52 L79.20,586.60 L80.36,585.14 L81.82,588.06 L83.28,590.25 L84.74,588.35 L86.20,589.23 L87.66,590.25 L89.42,591.71 L91.17,593.61 L92.63,590.69 L93.80,592.44 L95.55,594.63 L97.01,593.90 L98.47,592.44 L99.93,590.98 L101.39,593.90 L102.55,596.09 L103.72,593.61 L104.60,591.71 L105.47,596.09 L106.64,597.99 L108.10,596.09 L109.85,594.19 L111.31,593.90 L112.77,592.73 L114.23,594.63 L115.69,596.82 L117.15,598.28 L119.34,599.45 L121.53,600.18 L124.45,600.47" stroke="#4472C4" stroke-width="1.35" fill="none" stroke-linejoin="round"/>
<path d="M143.43,614.34 L144.89,611.12 L146.13,611.71 L148.03,612.15 L150.22,612.88 L152.41,613.31 L154.60,613.61 L157.52,613.31 L159.71,612.15 L161.90,610.25 L164.09,607.77 L165.99,607.04 L167.74,606.74 L168.91,605.87 L170.22,604.85 L171.82,605.28 L173.58,604.41 L175.33,604.85 L176.79,602.95 L177.66,601.93 L178.69,602.95 L179.71,601.93 L181.61,599.45 L183.07,599.01 L184.53,598.57 L185.99,597.55 L187.45,597.99 L188.91,600.03" stroke="#4472C4" stroke-width="1.35" fill="none" stroke-linejoin="round"/>
<path d="M200.58,613.61 L202.04,611.42 L203.07,609.23 L204.23,607.77 L205.40,604.85 L206.57,601.93 L207.59,601.49 L208.61,600.47 L210.07,599.01 L211.53,597.55 L212.99,598.57 L214.45,599.45 L215.91,600.47 L217.37,601.64 L218.83,602.66 L220.29,602.95 L221.75,601.93 L223.21,600.91 L224.38,601.49 L225.55,596.82 L226.72,592.44 L227.59,592.15 L228.76,593.90 L230.22,596.82 L230.00,596.09 L231.46,598.28 L232.92,601.20 L234.38,599.74 L235.84,602.95 L237.30,606.74 L238.47,602.36 L239.93,603.82 L241.39,604.85 L243.14,603.39 L244.60,602.36 L246.06,601.93 L247.52,600.47 L248.69,601.20 L249.85,603.82 L251.17,601.93 L252.63,600.91 L254.09,600.03 L255.55,599.45 L256.57,598.28 L257.15,593.90 L258.03,596.09 L258.91,601.20 L259.93,599.01 L261.39,597.55 L262.85,596.53 L263.87,597.55 L264.74,598.57 L265.77,597.99 L267.23,599.74 L268.69,602.95 L269.71,606.74 L270.88,608.20 L271.90,604.41 L272.63,600.91" stroke="#4472C4" stroke-width="1.35" fill="none" stroke-linejoin="round"/>
<path d="M57.00,607.50 L123.80,614.30 L188.00,615.40 L273.50,627.50" stroke="#000" stroke-width="2.1" fill="none" stroke-linejoin="round"/>
<circle cx="57.0" cy="607.5" r="3.25" fill="none" stroke="#000" stroke-width="0.8"/>
<circle cx="273.5" cy="627.5" r="3.25" fill="none" stroke="#000" stroke-width="0.8"/>
<path d="M57.50,612.10 L123.80,617.50 L188.00,619.00 L273.30,633.60" stroke="#4472C4" stroke-width="2.3" fill="none" stroke-dasharray="5.8 3" stroke-linejoin="round"/>
<path d="M53.5,608.1l8,8m0,-8l-8,8" stroke="#4472C4" stroke-width="0.8" fill="none"/>
<path d="M119.8,613.5l8,8m0,-8l-8,8" stroke="#4472C4" stroke-width="0.8" fill="none"/>
<path d="M184.0,615.0l8,8m0,-8l-8,8" stroke="#4472C4" stroke-width="0.8" fill="none"/>
<path d="M269.3,629.6l8,8m0,-8l-8,8" stroke="#4472C4" stroke-width="0.8" fill="none"/>
<rect x="61" y="643.7" width="93.0" height="25.0" fill="#000"/>
<text x="65.5" y="663.0" class="tt">Coating C</text>
<path d="M238.1,693.3H266.5" stroke="#000" stroke-width="1.35"/>
<path d="M238.1,709.8H266.5" stroke="#4472C4" stroke-width="1.35"/>
<path d="M241.5,727.0H266.5" stroke="#000" stroke-width="2.1"/>
<circle cx="253.1" cy="727.1" r="3.25" fill="none" stroke="#000" stroke-width="0.8"/>
<path d="M241.3,744.3H250.0M256.7,744.3H264.9" stroke="#4472C4" stroke-width="2.0"/>
<path d="M249.0,740.3l8.2,8.2m0,-8.2l-8.2,8.2" stroke="#4472C4" stroke-width="0.8" fill="none"/>
<text x="270.2" y="698.4" class="t">C1</text>
<text x="270.2" y="715.1" class="t">C2</text>
<text x="270.2" y="731.6" class="t">C1</text>
<text x="270.2" y="747.8" class="t">C2</text>
<path d="M230.5,687.0L221.9,691.0V708.1L231.4,712.6" stroke="#404040" stroke-width="0.9" fill="none"/>
<path d="M230.5,718.9L221.9,722.7V740.4L231.4,744.9" stroke="#404040" stroke-width="0.9" fill="none"/>
<text x="191.8" y="705.2" class="w"><tspan font-style="italic">W</tspan><tspan font-style="italic" font-size="10.5" dy="3.9">t</tspan></text>
<text x="172.3" y="734.1" class="w"><tspan font-style="italic">W</tspan><tspan font-style="italic" font-size="10.5" dy="4.3">t</tspan><tspan font-size="10.5">(OD)</tspan></text>
</svg>
</body></html>
